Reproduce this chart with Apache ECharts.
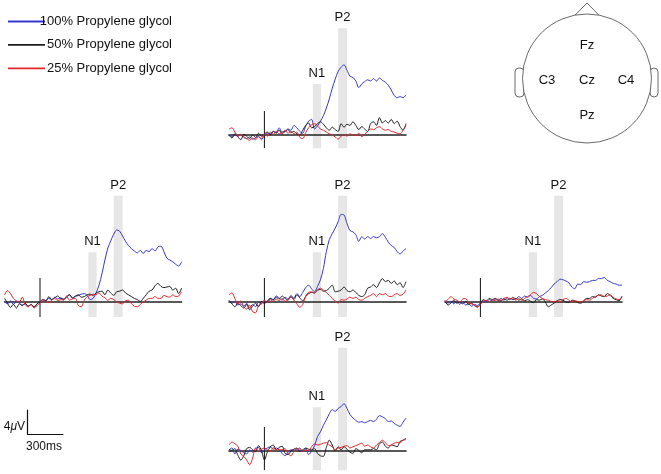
<!DOCTYPE html>
<html>
<head>
<meta charset="utf-8">
<script src="https://cdn.jsdelivr.net/npm/echarts@6/dist/echarts.min.js"></script>
<style>
html,body{margin:0;padding:0;background:#fff;}
#chart{width:661px;height:474px;}
</style>
</head>
<body>
<div id="chart"></div>
<script>
// ---- data ----
const legendNames = ['100% Propylene glycol', '50% Propylene glycol', '25% Propylene glycol'];
const tStart = -300, tEnd = 1200, tStep = 25; // ms
const n1Window = [410, 480];
const p2Window = [625, 700];
const scaleTime = 300;  // ms
const scaleAmp = 4;     // µV

const fzBlue = [0.1,-0.3,0.0,-0.2,0.1,-0.4,-0.6,-0.3,-0.7,-0.5,-0.2,-0.8,
 0.0,0.3,0.2,0.6,0.4,1.2,0.5,0.6,1.0,0.8,1.6,1.2,0.6,0.3,1.5,2.3,
 2.6,1.0,1.5,2.3,3.2,4.5,6.0,7.8,9.3,10.6,11.3,11.7,10.8,9.8,9.6,9.0,
 7.9,8.5,8.9,9.2,9.0,9.4,9.0,9.5,9.1,8.8,8.3,7.5,6.6,6.2,6.4,6.2,6.7];
const fzBlack = [0.0,-0.5,0.2,-0.3,-0.8,0.1,-0.2,-0.6,0.0,-0.4,0.3,-0.2,
 0.2,0.5,0.0,0.6,0.3,0.8,0.2,0.6,0.9,0.4,0.6,0.2,0.0,0.8,1.6,2.0,
 1.2,1.4,1.9,2.2,1.8,1.2,0.8,1.3,0.9,0.6,1.9,1.3,1.8,1.6,2.2,1.6,
 0.9,1.4,1.0,0.6,1.9,2.2,1.6,2.9,2.0,2.4,2.0,2.6,1.9,2.3,1.4,0.8,1.9];
const fzRed = [1.0,1.2,0.5,-0.2,0.1,-0.3,-0.6,-0.9,-0.5,-0.8,-0.3,-0.6,
 0.2,-0.2,0.5,0.1,0.6,0.2,0.4,0.8,0.3,0.6,0.2,0.5,-0.4,-0.6,0.4,1.2,
 1.7,1.9,1.5,1.0,0.8,0.5,0.2,0.0,-0.3,-0.7,-0.2,0.1,-0.2,0.2,0.0,-0.1,
 0.3,-0.3,0.1,0.6,1.0,0.9,1.2,1.4,1.0,0.8,0.9,0.6,0.5,0.3,0.2,0.8,1.6];

const c3Blue = [0.0,-0.3,0.2,-0.4,0.1,-0.2,-0.5,-0.3,-0.7,-0.4,-0.8,-0.3,
 0.1,0.4,0.2,0.6,0.4,0.8,0.5,0.7,0.4,0.9,1.2,0.6,0.9,1.1,1.3,1.4,
 1.1,0.4,0.6,1.5,2.8,4.7,7.0,9.0,10.2,11.3,12.0,11.8,11.0,10.1,9.4,8.9,
 8.5,8.2,8.6,8.1,8.6,8.4,8.9,8.5,9.2,9.3,8.4,7.3,7.0,6.7,6.3,6.0,6.7];
const c3Black = [0.6,-0.2,-0.9,-0.4,-1.0,-0.3,-0.6,-0.2,-0.7,-0.4,-0.9,-0.3,
 0.0,0.4,0.2,0.9,0.4,0.7,1.0,0.6,0.5,0.8,1.2,0.7,1.0,1.2,0.8,0.9,
 1.2,1.3,1.1,1.5,1.7,1.8,1.2,2.0,1.5,1.1,1.7,1.8,2.0,1.5,1.2,0.9,
 0.6,0.4,0.1,0.6,1.2,1.8,2.0,2.7,3.1,2.6,2.4,2.5,2.6,2.0,2.3,1.4,2.3];
const c3Red = [1.2,1.9,1.4,0.6,0.2,0.0,0.8,-0.5,-0.8,-0.4,-1.0,-0.6,
 -0.2,0.4,0.0,-0.1,0.3,0.6,0.2,0.4,0.3,1.0,0.3,0.5,0.6,-0.6,-0.8,0.3,
 0.9,1.1,1.3,1.2,1.5,1.0,0.7,0.3,0.6,0.4,0.0,-0.2,-0.3,0.2,0.3,-0.3,
 -0.7,-0.8,-0.4,0.0,0.3,0.6,0.6,0.9,0.6,0.6,1.1,0.9,0.8,1.2,0.9,1.0,1.7];

const czBlue = [0.3,-0.2,0.1,-0.5,-0.3,-0.7,-0.2,-1.0,-0.4,-0.8,0.0,-0.3,
 0.2,0.0,0.6,0.4,1.0,0.7,0.3,0.8,0.5,1.1,0.6,1.4,0.9,1.6,2.4,2.8,
 2.2,1.7,2.6,3.7,5.6,8.4,10.4,11.4,12.3,13.4,14.6,14.5,13.1,11.9,11.7,11.2,
 10.1,10.9,10.5,10.9,10.6,10.9,10.7,10.9,11.4,10.8,10.0,9.4,9.1,8.4,8.0,8.5,8.9];
const czBlack = [0.2,-0.3,-0.8,-0.2,-0.6,-1.0,-0.4,-1.3,-0.7,-0.2,-0.8,0.1,
 -0.3,0.2,0.6,0.3,0.8,0.5,1.0,0.6,0.3,0.9,0.4,1.2,0.7,0.2,0.9,1.4,
 1.6,1.5,2.0,2.1,1.8,1.9,2.3,2.8,1.7,1.8,2.0,2.5,1.9,1.7,2.0,1.6,
 1.1,0.9,1.2,2.3,2.5,2.9,2.4,3.2,3.9,3.4,3.6,3.1,3.5,2.9,3.2,2.4,3.4];
const czRed = [1.2,1.5,0.6,-0.4,0.2,-0.8,-1.2,-0.5,-1.6,-1.8,-0.6,-0.3,
 0.3,-0.1,0.4,0.0,0.5,0.2,0.6,0.1,0.4,0.8,0.3,-0.3,-0.9,-0.4,1.0,1.6,
 1.7,1.5,2.0,2.3,2.0,1.6,1.1,0.6,0.2,-0.2,0.4,0.3,0.5,0.8,0.6,0.8,
 0.4,0.3,0.6,0.9,1.1,1.4,0.9,1.4,1.2,1.4,1.0,0.9,1.2,1.4,1.1,1.3,2.0];

const c4Blue = [0.3,-0.2,0.1,-0.3,0.2,-0.4,0.0,-0.5,-0.3,-0.7,-0.4,-0.6,
 -0.1,0.2,0.0,0.4,0.2,0.5,0.3,0.6,0.3,0.7,0.4,0.8,0.5,0.9,0.6,1.0,
 0.8,1.1,0.6,0.5,0.9,1.1,1.5,1.9,2.4,3.0,3.4,3.8,3.7,3.5,3.2,2.5,
 2.2,3.0,2.9,3.4,3.3,3.4,3.6,3.6,3.9,3.9,4.1,3.6,3.4,3.1,3.0,2.8,2.8];
const c4Black = [0.2,-0.5,-0.2,0.3,-0.2,0.0,-0.3,0.1,-0.4,-0.2,-0.6,-0.8,
 -0.3,0.4,0.2,0.6,0.4,0.6,0.3,0.2,0.5,0.3,0.6,0.4,0.6,0.3,0.5,0.2,
 0.4,0.1,-0.1,0.4,0.3,0.5,0.0,-0.8,-0.5,-0.2,0.2,0.4,0.3,0.0,-0.1,0.3,
 0.2,-0.1,-0.2,0.2,0.6,0.6,0.9,0.8,1.2,1.0,0.9,1.4,1.1,0.6,0.4,0.2,1.0];
const c4Red = [0.0,0.4,0.9,0.5,0.3,0.0,0.5,0.6,-0.2,-0.3,-0.5,-0.9,
 -0.4,0.1,0.3,0.0,0.4,0.2,0.5,0.3,0.6,0.8,0.5,0.7,0.3,0.6,0.2,0.6,
 0.9,1.2,1.6,1.4,0.9,0.6,0.4,0.3,0.1,0.0,0.2,0.0,0.4,0.6,0.3,0.0,
 0.2,0.1,0.0,0.2,0.4,0.3,0.6,0.9,1.1,1.2,0.9,1.0,1.2,0.8,0.5,0.4,0.8];

const pzBlue = [0.2,0.5,-0.5,0.3,0.1,-0.3,-0.5,0.2,-0.2,0.4,0.6,-0.3,
 0.2,0.5,0.7,0.3,0.5,0.2,-0.4,-0.8,-0.2,0.2,0.1,0.3,0.5,-0.1,0.4,-0.6,
 0.0,0.9,2.4,3.2,4.3,5.2,6.2,6.9,6.6,7.1,7.4,7.9,7.1,6.1,5.5,5.1,
 4.8,4.9,4.7,4.9,5.1,4.9,5.3,5.9,5.7,5.4,4.9,5.0,4.6,4.3,4.1,4.8,5.5];
const pzBlack = [0.2,0.1,0.4,-0.7,-1.5,-0.8,0.4,0.6,0.2,-0.1,0.9,0.1,
 -1.5,-0.2,0.7,1.0,0.2,0.6,0.8,-0.4,-0.6,0.0,0.3,0.5,-0.1,0.2,0.5,0.3,
 0.2,0.4,-0.4,-0.8,-0.9,0.6,1.8,1.0,0.0,0.7,0.2,0.7,0.3,-0.2,-0.4,0.4,
 0.1,-0.3,0.2,0.2,0.2,0.4,0.2,1.2,1.5,0.8,0.5,1.0,0.9,0.7,1.6,1.8,2.1];
const pzRed = [1.0,1.5,1.2,0.8,-0.5,-0.9,-1.5,-2.3,-1.2,0.5,0.0,0.3,
 0.5,0.2,-0.1,0.6,0.1,0.3,0.2,0.4,-0.4,-0.8,-0.1,0.4,0.3,-0.1,0.2,0.1,
 0.7,1.2,1.0,1.1,1.3,1.4,1.0,0.7,0.2,0.5,0.6,0.8,0.9,0.5,0.7,0.9,
 1.1,1.3,0.8,1.0,0.7,0.5,1.0,1.4,1.8,1.4,0.9,1.0,1.3,1.4,1.4,1.8,1.9];

// ---- layout (not data) ----
const PX_PER_UV = 6;
const PX_PER_MS = 177 / 1500;
const colors = ['#3636d2', '#1c1c1c', '#e3262b'];
const panels = [
  { series: [fzBlue, fzBlack, fzRed], left: 229, base: 135, yMin: -2.2, yMax: 17.8, n1Top: 8.5 },
  { series: [c3Blue, c3Black, c3Red], left: 4.6, base: 302, yMin: -2.5, yMax: 17.7, n1Top: 8.3 },
  { series: [czBlue, czBlack, czRed], left: 229, base: 302, yMin: -2.5, yMax: 17.7, n1Top: 8.3 },
  { series: [c4Blue, c4Black, c4Red], left: 445, base: 302, yMin: -2.5, yMax: 17.7, n1Top: 8.3 },
  { series: [pzBlue, pzBlack, pzRed], left: 229, base: 451, yMin: -3.2, yMax: 17.2, n1Top: 7.3 }
];

const times = [];
for (let t = tStart; t <= tEnd; t += tStep) times.push(t);

const grid = [], xAxis = [], yAxis = [], series = [];
panels.forEach((p, i) => {
  grid.push({
    left: p.left,
    top: p.base - p.yMax * PX_PER_UV,
    width: (tEnd - tStart) * PX_PER_MS,
    height: (p.yMax - p.yMin) * PX_PER_UV
  });
  xAxis.push({
    type: 'value', gridIndex: i, min: tStart, max: tEnd, z: 2,
    axisLine: { show: true, onZero: true, lineStyle: { color: '#222', width: 1.6 } },
    axisTick: { show: false }, axisLabel: { show: false }, splitLine: { show: false }
  });
  yAxis.push({
    type: 'value', gridIndex: i, min: p.yMin, max: p.yMax,
    axisLine: { show: false }, axisTick: { show: false }, axisLabel: { show: false }, splitLine: { show: false }
  });
  // stimulus-onset line + N1 / P2 windows
  series.push({
    type: 'line', xAxisIndex: i, yAxisIndex: i, z: 1,
    data: [[0, p.yMin], [0, 4]],
    symbol: 'none', silent: true,
    lineStyle: { color: '#111', width: 1 },
    markArea: {
      silent: true,
      itemStyle: { color: '#e6e6e6' },
      label: { show: true, position: 'top', distance: 4, color: '#111', fontSize: 13 },
      data: [
        [{ name: 'N1', xAxis: n1Window[0], yAxis: p.yMin }, { xAxis: n1Window[1], yAxis: p.n1Top }],
        [{ name: 'P2', xAxis: p2Window[0], yAxis: p.yMin }, { xAxis: p2Window[1], yAxis: p.yMax }]
      ]
    }
  });
  p.series.forEach((vals, k) => {
    series.push({
      name: legendNames[k],
      type: 'line', xAxisIndex: i, yAxisIndex: i, z: 3,
      data: times.map((t, j) => [t, vals[j]]),
      symbol: 'none', smooth: 0.3,
      lineStyle: { color: colors[k], width: 1 },
      itemStyle: { color: colors[k] }
    });
  });
});

// scale bar (300 ms × 4 µV) built with the same scales
const sb = panels.length;
grid.push({ left: 27.5, top: 410, width: scaleTime * PX_PER_MS, height: scaleAmp * PX_PER_UV });
xAxis.push({
  type: 'value', gridIndex: sb, min: 0, max: scaleTime, position: 'bottom',
  axisLine: { show: true, onZero: false, lineStyle: { color: '#111', width: 1.2 } },
  axisTick: { show: false }, axisLabel: { show: false }, splitLine: { show: false }
});
yAxis.push({
  type: 'value', gridIndex: sb, min: 0, max: scaleAmp, position: 'left',
  axisLine: { show: true, onZero: false, lineStyle: { color: '#111', width: 1.2 } },
  axisTick: { show: false }, axisLabel: { show: false }, splitLine: { show: false }
});
series.push({ type: 'line', xAxisIndex: sb, yAxisIndex: sb, data: [], symbol: 'none' });

const headStroke = '#444';
const chart = echarts.init(document.getElementById('chart'), null, { renderer: 'canvas' });
chart.setOption({
  animation: false,
  textStyle: { fontFamily: '"Liberation Sans", Arial, Helvetica, sans-serif' },
  legend: {
    data: legendNames, orient: 'vertical', left: 3, top: 10,
    icon: 'rect', itemWidth: 37, itemHeight: 1.8, itemGap: 10.4, selectedMode: false,
    formatter: n => '{t|' + n + '}',
    textStyle: {
      padding: [0, 0, 0, -4],
      rich: { t: { width: 126, align: 'right', fontSize: 13, lineHeight: 14, color: '#111',
                   fontFamily: '"Liberation Sans", Arial, sans-serif' } }
    }
  },
  grid, xAxis, yAxis, series,
  graphic: [
    { type: 'rect', shape: { x: 515, y: 68, width: 9, height: 29, r: 4 }, style: { fill: '#fff', stroke: headStroke, lineWidth: 0.8 } },
    { type: 'rect', shape: { x: 650, y: 68, width: 8, height: 29, r: 4 }, style: { fill: '#fff', stroke: headStroke, lineWidth: 0.8 } },
    { type: 'circle', shape: { cx: 587, cy: 78.5, r: 64.5 }, style: { fill: '#fff', stroke: headStroke, lineWidth: 0.8 } },
    { type: 'polyline', shape: { points: [[575, 15.2], [587, 3], [599, 15.2]] }, style: { fill: 'none', stroke: headStroke, lineWidth: 0.8 } },
    { type: 'text', x: 587, y: 45, style: { text: 'Fz', fill: '#111', align: 'center', verticalAlign: 'middle', font: '13px "Liberation Sans", Arial, sans-serif' } },
    { type: 'text', x: 547, y: 80, style: { text: 'C3', fill: '#111', align: 'center', verticalAlign: 'middle', font: '13px "Liberation Sans", Arial, sans-serif' } },
    { type: 'text', x: 587, y: 80, style: { text: 'Cz', fill: '#111', align: 'center', verticalAlign: 'middle', font: '13px "Liberation Sans", Arial, sans-serif' } },
    { type: 'text', x: 626, y: 80, style: { text: 'C4', fill: '#111', align: 'center', verticalAlign: 'middle', font: '13px "Liberation Sans", Arial, sans-serif' } },
    { type: 'text', x: 587, y: 115, style: { text: 'Pz', fill: '#111', align: 'center', verticalAlign: 'middle', font: '13px "Liberation Sans", Arial, sans-serif' } },
    { type: 'text', x: 25, y: 427, style: { text: '4{i|μ}V', align: 'right', verticalAlign: 'middle', fill: '#111',
        font: '12px "Liberation Sans", Arial, sans-serif',
        rich: { i: { fontStyle: 'italic', fontSize: 12, fill: '#111' } } } },
    { type: 'text', x: 26, y: 447, style: { text: '300ms', align: 'left', verticalAlign: 'middle', fill: '#111',
        font: '12px "Liberation Sans", Arial, sans-serif' } }
  ]
});
</script>
</body>
</html>
